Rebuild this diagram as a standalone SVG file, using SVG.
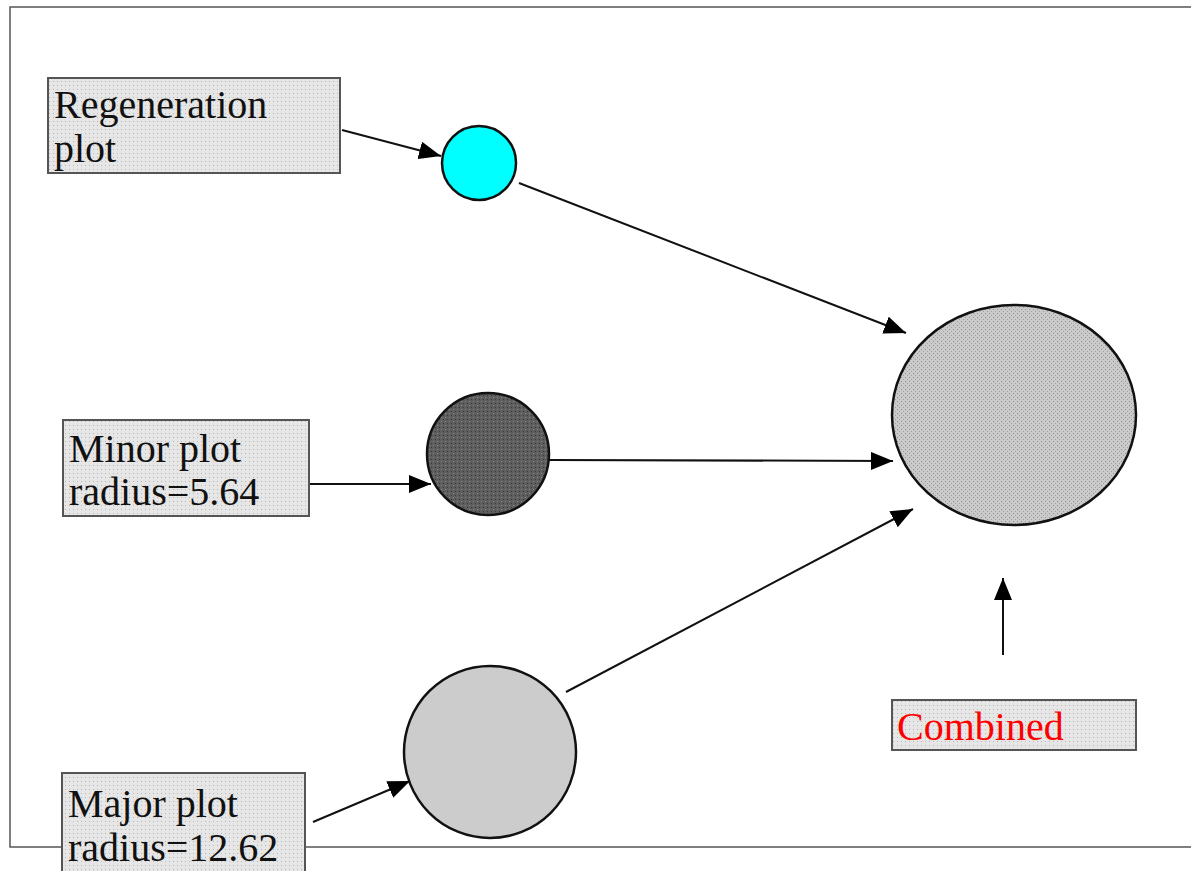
<svg xmlns="http://www.w3.org/2000/svg" width="1191" height="871" viewBox="0 0 1191 871">
  <defs>
    <marker id="arrow" markerUnits="userSpaceOnUse" markerWidth="24" markerHeight="18" refX="22" refY="9" orient="auto">
      <path d="M0,0 L22,9 L0,18 Z" fill="#000"/>
    </marker>
    <pattern id="stippleLight" width="4" height="4" patternUnits="userSpaceOnUse">
      <rect width="4" height="4" fill="#e6e6e6"/>
      <rect x="1" y="1" width="1" height="1" fill="#b8b8b8"/>
    </pattern>
    <pattern id="stippleMid" width="4" height="4" patternUnits="userSpaceOnUse">
      <rect width="4" height="4" fill="#cacaca"/>
      <rect x="1" y="1" width="1" height="1" fill="#909090"/>
      <rect x="3" y="3" width="1" height="1" fill="#a0a0a0"/>
    </pattern>
    <pattern id="stippleDark" width="4" height="4" patternUnits="userSpaceOnUse">
      <rect width="4" height="4" fill="#5e5e5e"/>
      <rect x="1" y="1" width="1" height="1" fill="#8a8a8a"/>
      <rect x="3" y="3" width="1" height="1" fill="#3a3a3a"/>
    </pattern>
  </defs>
  <style>
    .frame { fill: none; stroke: #555; stroke-width: 1.5; }
    .label { fill: url(#stippleLight); stroke: #555; stroke-width: 2; }
    .txt { font-size: 40px; fill: #111; }
    .red { fill: #ff0000; }
    .plot { stroke: #111; stroke-width: 2.5; }
    .conn line { stroke: #111; stroke-width: 2; marker-end: url(#arrow); }
  </style>

  <rect width="1191" height="871" fill="#fff"/>
  <rect class="frame" x="10" y="7" width="1200" height="840"/>

  <g font-family="'Liberation Serif', 'DejaVu Serif', serif">
    <g id="regen-label">
      <rect class="label" x="48" y="78" width="292" height="95"/>
      <text class="txt" x="54" y="118">Regeneration</text>
      <text class="txt" x="54" y="162">plot</text>
    </g>

    <g id="regen-plot">
      <circle class="plot" cx="479" cy="163" r="37" fill="#00ffff"/>
    </g>

    <g id="minor-label">
      <rect class="label" x="63" y="420" width="246" height="96"/>
      <text class="txt" x="69" y="462">Minor plot</text>
      <text class="txt" x="69" y="505">radius=5.64</text>
    </g>

    <g id="minor-plot">
      <circle class="plot" cx="488" cy="454" r="61" fill="url(#stippleDark)"/>
    </g>

    <g id="major-plot">
      <ellipse class="plot" cx="490" cy="752" rx="86" ry="86" fill="#cccccc"/>
    </g>

    <g id="major-label">
      <rect class="label" x="62" y="773" width="243" height="100"/>
      <text class="txt" x="68" y="817">Major plot</text>
      <text class="txt" x="68" y="861">radius=12.62</text>
    </g>

    <g id="combined-plot">
      <ellipse class="plot" cx="1014" cy="415" rx="122" ry="110" fill="url(#stippleMid)"/>
    </g>

    <g id="combined-label">
      <rect class="label" x="892" y="700" width="244" height="50"/>
      <text class="txt red" x="897" y="740">Combined</text>
    </g>
  </g>

  <g id="connectors" class="conn">
    <line x1="342" y1="130" x2="441" y2="156"/>
    <line x1="519" y1="183" x2="906" y2="333"/>
    <line x1="310" y1="484" x2="431" y2="484"/>
    <line x1="549" y1="460" x2="893" y2="461"/>
    <line x1="566" y1="692" x2="913" y2="509"/>
    <line x1="313" y1="822" x2="410" y2="781"/>
    <line x1="1003" y1="655" x2="1003" y2="578"/>
  </g>
</svg>
